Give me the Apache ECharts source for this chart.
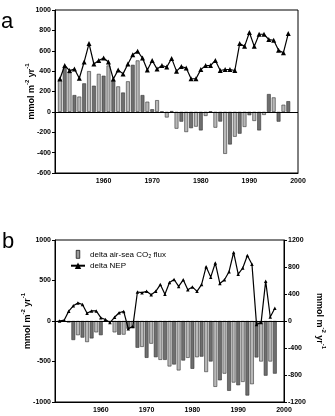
<!DOCTYPE html>
<html><head><meta charset="utf-8">
<script src="https://cdn.jsdelivr.net/npm/echarts@6/dist/echarts.min.js"></script>
<style>html,body{margin:0;padding:0;background:#fff}#c{width:335px;height:416px}</style>
</head><body><div id="c"></div>
<script>
var years = [1951,1952,1953,1954,1955,1956,1957,1958,1959,1960,1961,1962,1963,1964,1965,1966,1967,1968,1969,1970,1971,1972,1973,1974,1975,1976,1977,1978,1979,1980,1981,1982,1983,1984,1985,1986,1987,1988,1989,1990,1991,1992,1993,1994,1995,1996,1997,1998];
// panel a
var aBars = [323,432,385,165,150,280,400,257,373,355,455,307,250,190,300,462,505,165,100,26,115,3,-55,8,-165,-96,-198,-160,-145,-182,-40,5,-155,-95,-412,-320,-244,-214,-148,-33,-89,-182,-30,175,142,-96,70,105];
var aLine = [323,455,405,420,330,490,670,470,505,528,490,323,412,373,470,560,595,528,412,505,420,455,440,525,400,445,430,325,325,415,455,455,505,406,416,416,406,670,643,779,643,762,762,710,703,604,581,769];
// panel b
var bFlux = [0,-5,-20,-235,-175,-205,-260,-215,-140,-175,-5,-10,-140,-170,-168,-95,-85,-330,-320,-455,-280,-447,-480,-480,-561,-537,-610,-488,-455,-590,-447,-440,-630,-500,-813,-732,-650,-862,-760,-793,-752,-920,-780,-450,-500,-675,-500,-650];
var bNEP = [0,12,146,225,268,244,115,150,150,49,22,-24,55,122,142,-115,-80,430,420,440,390,440,540,395,570,615,512,610,463,505,439,540,805,650,860,555,610,730,1015,693,785,970,842,-50,-24,590,59,190];
var xTicks = [1960,1970,1980,1990,2000];
var fluxName = 'delta air-sea CO\u2082 flux';
var nepName = 'delta NEP';

function pairs(v){ return years.map(function(y,i){ return [y, v[i]]; }); }

var FONT = 'Liberation Sans';
var unitName = '{b|mmol m}{s|-2}{b| yr}{s|-1}';
var unitRich = {
  b:{fontFamily:FONT,fontWeight:'bold',fontSize:9,color:'#000',lineHeight:12,verticalAlign:'bottom'},
  s:{fontFamily:FONT,fontWeight:'bold',fontSize:6,color:'#000',lineHeight:12,verticalAlign:'top'}
};
var tickLbl = {fontFamily:FONT,fontWeight:'bold',fontSize:7,color:'#000',formatter:function(v){return String(v);}};
function xAxisOf(gi){
  return {type:'value',gridIndex:gi,min:1950,max:2000,interval:10,
    axisLine:{onZero:false,lineStyle:{color:'#000',width:1}},axisTick:{show:false},splitLine:{show:false},
    axisLabel:Object.assign({},tickLbl,{margin:5,formatter:function(v){return xTicks.indexOf(v)>=0? String(v):'';}})};
}
function barColor(p){ return p.dataIndex % 2 ? '#6f6f6f' : '#b8b8b8'; }
var zeroLine = {silent:true,symbol:'none',label:{show:false},lineStyle:{color:'#000',type:'solid',width:1},data:[{yAxis:0}]};

var chart = echarts.init(document.getElementById('c'),null,{renderer:'canvas'});
chart.setOption({
  animation:false,
  textStyle:{fontFamily:FONT},
  grid:[
    {left:55,top:10,width:243,height:163,show:true,borderColor:'#000',borderWidth:1,containLabel:false},
    {left:55,top:240,width:238,height:162,show:true,borderColor:'#000',borderWidth:1,containLabel:false}
  ],
  xAxis:[xAxisOf(0),xAxisOf(1)],
  yAxis:[
    {type:'value',gridIndex:0,min:-600,max:1000,interval:200,
     name:unitName,nameLocation:'middle',nameGap:19,nameMoveOverlap:false,nameTextStyle:{rich:unitRich},
     axisLine:{show:true,onZero:false,lineStyle:{color:'#000'}},axisTick:{show:true,length:3,lineStyle:{color:'#000'}},
     splitLine:{show:false},axisLabel:Object.assign({margin:4},tickLbl)},
    {type:'value',gridIndex:1,min:-1000,max:1000,interval:500,
     name:unitName,nameLocation:'middle',nameGap:23,nameMoveOverlap:false,nameTextStyle:{rich:unitRich},
     axisLine:{show:true,onZero:false,lineStyle:{color:'#000'}},axisTick:{show:true,length:3,lineStyle:{color:'#000'}},
     splitLine:{show:false},axisLabel:Object.assign({margin:4},tickLbl)},
    {type:'value',gridIndex:1,position:'right',min:-1200,max:1200,interval:400,
     name:unitName,nameLocation:'middle',nameGap:31,nameMoveOverlap:false,nameRotate:-90,nameTextStyle:{rich:unitRich},
     axisLine:{show:true,onZero:false,lineStyle:{color:'#000'}},axisTick:{show:true,length:3,lineStyle:{color:'#000'}},
     splitLine:{show:false},axisLabel:Object.assign({margin:4},tickLbl)}
  ],
  legend:{
    left:65,top:245,orient:'vertical',itemWidth:14,itemHeight:8,itemGap:3,
    textStyle:{fontFamily:FONT,fontSize:8,color:'#000'},
    data:[{name:fluxName,icon:'path://M0,5L0.01,5M5,0.5L9,0.5L9,9.5L5,9.5ZM14,5L14.01,5',itemStyle:{color:'#999',borderColor:'#000',borderWidth:0.7}},
          {name:nepName}]
  },
  series:[
    {type:'bar',xAxisIndex:0,yAxisIndex:0,data:pairs(aBars),barWidth:3.8,
     itemStyle:{color:barColor,borderColor:'#333',borderWidth:0.6},markLine:zeroLine,z:2},
    {type:'line',xAxisIndex:0,yAxisIndex:0,data:pairs(aLine),symbol:'triangle',symbolSize:5,
     lineStyle:{color:'#000',width:1.2},itemStyle:{color:'#000'},z:3},
    {name:fluxName,type:'bar',xAxisIndex:1,yAxisIndex:1,data:pairs(bFlux),barWidth:3.8,
     itemStyle:{color:barColor,borderColor:'#333',borderWidth:0.6},markLine:zeroLine,z:2},
    {name:nepName,type:'line',xAxisIndex:1,yAxisIndex:2,data:pairs(bNEP),symbol:'triangle',symbolSize:3.5,
     lineStyle:{color:'#000',width:1.2},itemStyle:{color:'#000'},z:3}
  ],
  graphic:[
    {type:'text',left:1,top:11,style:{text:'a',font:'22px "Liberation Sans"',fill:'#000'}},
    {type:'text',left:2,top:231,style:{text:'b',font:'22px "Liberation Sans"',fill:'#000'}}
  ]
});
</script></body></html>
